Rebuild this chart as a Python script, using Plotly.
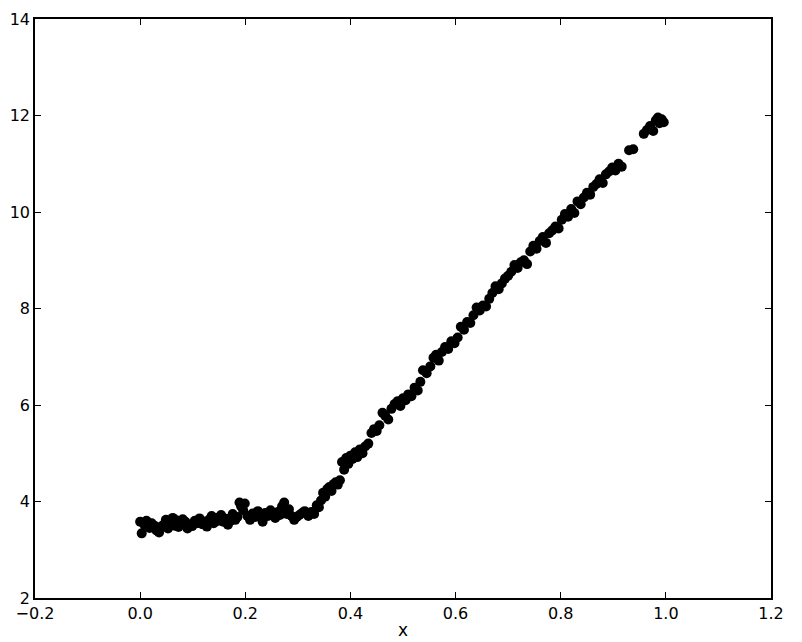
import plotly.graph_objects as go

# flat part, x in [0, 0.31]
x_flat = [0.000, 0.003, 0.008, 0.012, 0.018, 0.022, 0.027, 0.031, 0.036, 0.040,
          0.045, 0.049, 0.053, 0.058, 0.062, 0.066, 0.069, 0.073, 0.077, 0.081,
          0.086, 0.090, 0.094, 0.099, 0.104, 0.108, 0.113, 0.118, 0.122, 0.127,
          0.131, 0.136, 0.140, 0.145, 0.149, 0.154, 0.158, 0.163, 0.167, 0.172,
          0.176, 0.181, 0.185, 0.189, 0.192, 0.196, 0.199, 0.204, 0.209, 0.214,
          0.219, 0.224, 0.229, 0.233, 0.238, 0.243, 0.248, 0.252, 0.257, 0.262,
          0.266, 0.270, 0.274, 0.279, 0.283, 0.288, 0.293, 0.298, 0.303, 0.308,
          0.313]
y_flat = [3.58, 3.34, 3.52, 3.60, 3.45, 3.55, 3.50, 3.40, 3.36, 3.48,
          3.52, 3.62, 3.44, 3.57, 3.66, 3.50, 3.61, 3.47, 3.55, 3.63,
          3.58, 3.44, 3.52, 3.49, 3.60, 3.55, 3.65, 3.53, 3.58, 3.48,
          3.62, 3.70, 3.55, 3.66, 3.60, 3.72, 3.58, 3.64, 3.52, 3.60,
          3.74, 3.62, 3.68, 3.98, 3.90, 3.82, 3.96, 3.70, 3.62, 3.75,
          3.68, 3.80, 3.72, 3.58, 3.76, 3.70, 3.82, 3.74, 3.66, 3.78,
          3.72, 3.90, 3.98, 3.74, 3.84, 3.70, 3.62, 3.68, 3.72, 3.76,
          3.80]

# rising part, x in [0.32, 1.0]
x_rise = [0.320, 0.326, 0.331, 0.336, 0.340, 0.344, 0.348, 0.352, 0.356, 0.360,
          0.364, 0.368, 0.372, 0.376, 0.380, 0.384, 0.388, 0.392, 0.396, 0.400,
          0.404, 0.409, 0.413, 0.418, 0.423, 0.428, 0.434, 0.440, 0.445, 0.450,
          0.455, 0.461, 0.466, 0.472, 0.478, 0.484, 0.490, 0.495, 0.500, 0.505,
          0.510, 0.516, 0.522, 0.528, 0.533, 0.538, 0.545, 0.552, 0.558, 0.563,
          0.568, 0.574, 0.580, 0.586, 0.592, 0.598, 0.604, 0.610, 0.616, 0.622,
          0.628, 0.634, 0.640, 0.646, 0.652, 0.658, 0.664, 0.670, 0.676, 0.682,
          0.688, 0.694, 0.700, 0.706, 0.712, 0.718, 0.724, 0.730, 0.736, 0.742,
          0.748, 0.754, 0.760, 0.766, 0.772, 0.778, 0.784, 0.790, 0.796, 0.802,
          0.808, 0.814, 0.820, 0.826, 0.832, 0.838, 0.844, 0.850, 0.856, 0.862,
          0.868, 0.874, 0.880, 0.886, 0.892, 0.898, 0.904, 0.910, 0.916, 0.930,
          0.938, 0.958, 0.964, 0.970, 0.976, 0.981, 0.985, 0.988, 0.992, 0.996]
y_rise = [3.70, 3.78, 3.74, 3.92, 3.88, 4.02, 4.18, 4.10, 4.26, 4.30,
          4.22, 4.36, 4.40, 4.35, 4.44, 4.82, 4.66, 4.90, 4.78, 4.95,
          4.88, 5.02, 4.92, 5.08, 5.00, 5.14, 5.20, 5.42, 5.50, 5.46,
          5.58, 5.84, 5.78, 5.70, 5.92, 6.02, 6.08, 5.98, 6.14, 6.10,
          6.22, 6.18, 6.36, 6.30, 6.48, 6.72, 6.66, 6.80, 6.98, 7.04,
          6.92, 7.10, 7.20, 7.16, 7.32, 7.28, 7.40, 7.62, 7.56, 7.72,
          7.70, 7.86, 8.02, 7.96, 8.06, 8.04, 8.20, 8.32, 8.46, 8.40,
          8.52, 8.62, 8.68, 8.76, 8.90, 8.84, 8.96, 9.00, 8.92, 9.18,
          9.30, 9.24, 9.40, 9.48, 9.36, 9.56, 9.62, 9.70, 9.66, 9.84,
          9.96, 9.90, 10.06, 9.98, 10.22, 10.16, 10.30, 10.40, 10.36, 10.52,
          10.58, 10.68, 10.60, 10.78, 10.84, 10.92, 10.86, 11.00, 10.94, 11.28,
          11.30, 11.62, 11.70, 11.78, 11.68, 11.90, 11.96, 11.84, 11.92, 11.86]

x_vals = x_flat + x_rise
y_vals = y_flat + y_rise

fig = go.Figure()
fig.add_trace(go.Scatter(x=x_vals, y=y_vals, mode="markers",
                         marker=dict(color="black", size=10, line=dict(width=0))))

axis_style = dict(showline=True, linecolor="black", linewidth=1.5, mirror="ticks",
                  ticks="inside", ticklen=6, tickcolor="black", showgrid=False,
                  zeroline=False, automargin=False,
                  tickfont=dict(size=16, color="black"))

fig.update_xaxes(range=[-0.2, 1.2], dtick=0.2, tick0=0, tickformat=".1f",
                 title=dict(text="x", font=dict(size=17, color="black"), standoff=2),
                 **axis_style)
fig.update_yaxes(range=[2, 14], dtick=2, **axis_style)

# page body adds an 8px offset, so the figure is a bit smaller than the window
fig.update_layout(width=794, height=634, plot_bgcolor="white", paper_bgcolor="white",
                  font=dict(family="DejaVu Sans"), showlegend=False,
                  margin=dict(l=27, r=31, t=11, b=44))

fig.write_html("out.html")
